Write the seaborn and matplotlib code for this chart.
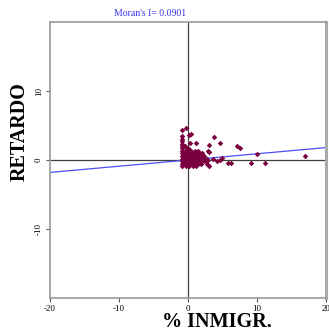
import numpy as np
import pandas as pd

import matplotlib
matplotlib.use("Agg")
import matplotlib.pyplot as plt
import seaborn as sns

# Moran scatterplot: % INMIGR. vs spatial lag (RETARDO)

moran_i = 0.0901

# dense core of the cloud
core_x = [-0.9, -0.5, 0.0, 0.5, 1.0, 1.5,
          -0.9, -0.5, 0.0, 0.4, 0.8, 1.2, 1.6, 2.0,
          -0.9, -0.5, -0.1, 0.3, 0.7, 1.1, 1.5, 1.9, 2.3,
          -0.9, -0.5, -0.1, 0.3, 0.7, 1.1, 1.5, 1.9, 2.3, 2.7,
          -0.9, -0.5, -0.1, 0.3, 0.7, 1.1, 1.5, 1.9, 2.3, 2.7,
          -0.9, -0.5, -0.1, 0.3, 0.7, 1.1, 1.5, 1.9,
          -0.8, -0.3, 0.2, 0.7, 1.2]
core_y = [1.3, 1.3, 1.3, 1.3, 1.3, 1.3,
          1.0, 1.0, 1.0, 1.0, 1.0, 1.0, 1.0, 1.0,
          0.6, 0.6, 0.6, 0.6, 0.6, 0.6, 0.6, 0.6, 0.6,
          0.2, 0.2, 0.2, 0.2, 0.2, 0.2, 0.2, 0.2, 0.2, 0.2,
          -0.2, -0.2, -0.2, -0.2, -0.2, -0.2, -0.2, -0.2, -0.2, -0.2,
          -0.6, -0.6, -0.6, -0.6, -0.6, -0.6, -0.6, -0.6,
          -0.9, -0.9, -0.9, -0.9, -0.9]

# scattered municipalities outside the core
out_x = [-0.9, -0.9, -0.9, -0.9, -0.9, -0.9, -0.9, -0.33, -0.5, -0.2, 0.2,
         0.2, 0.5, 1.1, 0.3, 3.7, 4.6, 3.1, 7.1, 7.6, 10.0, 16.9, 9.2, 11.2,
         5.8, 6.2, 4.6, 4.9, 2.9, 3.0, 2.7, 3.0, 4.2, 3.6]
out_y = [1.7, 2.0, 2.3, 2.7, 3.0, 3.5, 4.4, 4.7, 2.0, 1.8, 1.6,
         3.6, 3.75, 2.5, 2.4, 3.4, 2.4, 2.2, 2.0, 1.8, 0.8, 0.6, -0.5, -0.5,
         -0.4, -0.5, 0.0, 0.3, 1.3, 1.1, -0.6, -0.85, -0.15, 0.2]

df = pd.DataFrame({"inmigr": core_x + out_x, "retardo": core_y + out_y})

line_x = [-20, 20]
line_y = [moran_i * v for v in line_x]

fig = plt.figure(figsize=(3.29, 3.36), dpi=100)
ax = fig.add_axes([50 / 329, 38 / 336, 276 / 329, 276 / 336])

ax.axhline(0, color="#404040", lw=0.9, zorder=1)
ax.axvline(0, color="#404040", lw=0.9, zorder=1)
sns.lineplot(x=line_x, y=line_y, color="#4f4fff", lw=0.9, ax=ax, zorder=2)
sns.scatterplot(data=df, x="inmigr", y="retardo", color="#7a0040", marker="D",
                s=8, linewidth=0, ax=ax, zorder=3)

ax.set_xlim(-20, 20)
ax.set_ylim(-20, 20)
ax.set_xticks([-20, -10, 0, 10, 20])
ax.set_yticks([-10, 0, 10])
ax.set_xticklabels(["-20", "-10", "0", "10", "20"], family="Liberation Serif", fontsize=6.5)
ax.set_yticklabels(["-10", "0", "10"], family="Liberation Serif", fontsize=6.5,
                   rotation=90, va="center")
ax.tick_params(length=3, width=0.8, color="#555555", pad=2)
ax.set_xlabel("")
ax.set_ylabel("")

for side in ["left", "bottom", "top"]:
    ax.spines[side].set_color("#999999")
    ax.spines[side].set_linewidth(1.2)
ax.spines["right"].set_color("#aaaaaa")
ax.spines["right"].set_linewidth(2.2)

fig.text(150 / 329, 1 - 14 / 336, "Moran's I= 0.0901", color="#3333ee",
         family="Liberation Serif", fontsize=7, ha="center", va="center")
fig.text(217 / 329, 1 - 322 / 336, "% INMIGR.", family="Liberation Serif",
         fontweight="bold", fontsize=14.5, ha="center", va="center")
fig.text(20 / 329, 1 - 132 / 336, "RETARDO", family="Liberation Serif",
         fontweight="bold", fontsize=14.5, ha="center", va="center", rotation=90)

fig.savefig("out.png", dpi=100)
